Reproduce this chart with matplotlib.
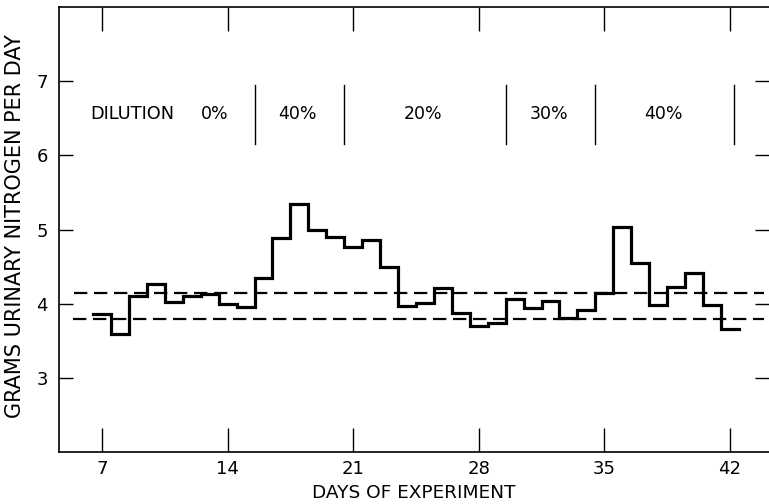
import matplotlib
matplotlib.use("Agg")
import matplotlib.pyplot as plt
import numpy as np

days = list(range(7, 43))
nitrogen = [3.86, 3.59, 4.10, 4.27, 4.02, 4.10, 4.13, 3.99, 3.96, 4.34,
            4.88, 5.35, 5.00, 4.90, 4.77, 4.86, 4.50, 3.97, 4.01, 4.21,
            3.88, 3.70, 3.74, 4.06, 3.94, 4.04, 3.81, 3.92, 4.14, 5.04,
            4.55, 3.98, 4.23, 4.41, 3.98, 3.66]
upper_ref = 4.15
lower_ref = 3.80
dividers = [15.5, 20.5, 29.5, 34.5, 42.25]
dilution_labels = ["0%", "40%", "20%", "30%", "40%"]
dilution_pos = [13.3, 17.9, 24.9, 31.9, 38.3]
xticks = [7, 14, 21, 28, 35, 42]
yticks = [3, 4, 5, 6, 7]

plt.rcParams['font.family'] = ['DejaVu Sans']

fig = plt.figure(figsize=(7.69, 5.04), dpi=100)
ax = fig.add_axes([59/769, 52/504, 1 - 59/769, (452-7)/504])
ax.set_xlim(4.60, 44.18)
ax.set_ylim(2.0, 8.0)

# step line
d = np.array(days, dtype=float)
v = np.array(nitrogen)
xs = np.concatenate([d - 0.5, [d[-1] + 0.5]])
ys = np.concatenate([v, [v[-1]]])
ax.step(xs, ys, where='post', color='black', lw=2.3, solid_joinstyle='miter')

# reference dashed lines
ax.plot([5.45, 43.9], [upper_ref, upper_ref], color='black', lw=1.6, dashes=(6, 3))
ax.plot([5.4, 43.9], [lower_ref, lower_ref], color='black', lw=1.6, dashes=(6, 3))

# dilution dividers and labels
for xd in dividers:
    ax.plot([xd, xd], [6.15, 6.95], color='black', lw=1.0)
ax.text(6.35, 6.56, "DILUTION", ha='left', va='center', fontsize=12.8)
for lab, xp in zip(dilution_labels, dilution_pos):
    ax.text(xp, 6.56, lab, ha='center', va='center', fontsize=12.5)

# spines
ax.spines['right'].set_visible(False)
for s in ['left', 'bottom', 'top']:
    ax.spines[s].set_linewidth(1.2)

ax.set_xticks(xticks)
ax.set_yticks(yticks)
ax.tick_params(axis='x', direction='in', length=17, width=1.0, top=True,
               labelsize=13, pad=6)
ax.tick_params(axis='y', direction='in', length=10, width=1.0, right=True,
               labelsize=13, pad=8)

ax.set_xlabel("DAYS OF EXPERIMENT", fontsize=13.3, labelpad=4)
ax.set_ylabel("GRAMS URINARY NITROGEN PER DAY", fontsize=15)
ax.yaxis.set_label_coords(-0.048, 0.508)

fig.savefig("out.png", dpi=100)
